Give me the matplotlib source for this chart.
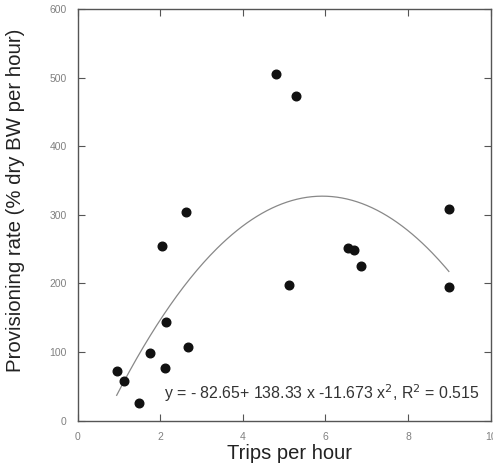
import numpy as np
import matplotlib
matplotlib.use('Agg')
import matplotlib.pyplot as plt

plt.rcParams['font.family'] = ['Liberation Sans', 'DejaVu Sans']

trips = [0.94, 1.12, 1.47, 1.75, 2.11, 2.13, 2.67, 2.05, 2.61,
         4.81, 5.28, 5.11, 6.55, 6.70, 6.85, 8.99, 8.99]
rate = [73, 58, 26, 98, 77, 144, 107, 254, 304,
        505, 473, 198, 251, 249, 225, 309, 195]

# Quadratic fit from the equation shown on the chart.
coef = [-82.65, 138.33, -11.673]
xticks = [0, 2, 4, 6, 8, 10]
yticks = [0, 100, 200, 300, 400, 500, 600]

fig = plt.figure(figsize=(4.93, 4.68), dpi=100)
ax = fig.add_axes([0.158, 0.101, 0.837, 0.880])

xs = np.linspace(min(trips), max(trips), 200)
ax.plot(xs, coef[0] + coef[1] * xs + coef[2] * xs ** 2,
        color='#888888', lw=0.9)
ax.plot(trips, rate, 'o', color='#111111', ms=6.2)

ax.set_xlim(0, 10)
ax.set_ylim(0, 600)
ax.set_xticks(xticks)
ax.set_yticks(yticks)
ax.tick_params(direction='in', length=5, width=0.8, color='#555555',
               labelcolor='#808080', labelsize=7.5, top=True, right=True,
               labeltop=False, labelright=False)
ax.tick_params(axis='x', pad=8)
ax.tick_params(axis='y', pad=8)
for s in ax.spines.values():
    s.set_color('#555555')
    s.set_linewidth(1.0)

ax.set_xlabel('Trips per hour', fontsize=14.5, color='#222222')
ax.set_ylabel('Provisioning rate (% dry BW per hour)', fontsize=14.7,
              color='#222222')
ax.xaxis.set_label_coords(0.513, -0.056)
ax.yaxis.set_label_coords(-0.128, 0.534)

ax.text(0.972, 0.066,
        'y = - 82.65+ 138.33 x -11.673 x$^2$, R$^2$ = 0.515',
        transform=ax.transAxes, ha='right', va='center', fontsize=11.4,
        color='#333333')

fig.savefig('out.png', dpi=100)
